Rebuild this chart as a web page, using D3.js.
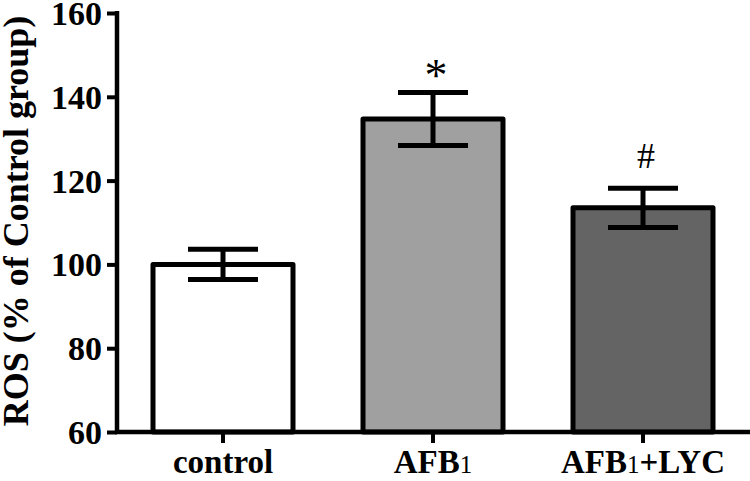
<!DOCTYPE html>
<html>
<head>
<meta charset="utf-8">
<script src="https://cdn.jsdelivr.net/npm/d3@7"></script>
<style>
  html, body { margin: 0; padding: 0; background: #fff; }
  svg { display: block; font-family: "Liberation Serif", "Times New Roman", serif; }
</style>
</head>
<body>
<svg id="chart" width="750" height="481"></svg>
<script>
// values
const groups = ['control', 'AFB1', 'AFB1+LYC'];
const means = [100, 134.7, 113.5];
const sems = [3.6, 6.3, 4.7];
const marks = ['', '*', '#'];
const fills = ['#ffffff', '#a0a0a0', '#646464'];
const yTicks = [60, 80, 100, 120, 140, 160];

const svg = d3.select('#chart');
const axisX = 117, baseY = 432, topY = 13;

const x = d3.scaleBand()
  .domain(groups)
  .range([118, 748])
  .paddingInner(1 / 3)
  .paddingOuter(1 / 6);

const y = d3.scaleLinear()
  .domain([60, 160])
  .range([baseY, topY]);

const rows = groups.map((g, i) => ({ g, mean: means[i], sem: sems[i], mark: marks[i], fill: fills[i] }));

// bars
svg.append('g').selectAll('rect')
  .data(rows)
  .join('rect')
  .attr('x', d => x(d.g))
  .attr('y', d => y(d.mean))
  .attr('width', x.bandwidth())
  .attr('height', d => baseY - y(d.mean))
  .attr('fill', d => d.fill)
  .attr('stroke', '#000')
  .attr('stroke-width', 5)
  .attr('stroke-linejoin', 'round');

// error bars
const capW = 70;
const eb = svg.append('g').attr('stroke', '#000').attr('stroke-width', 5);
rows.forEach(d => {
  const cx = x(d.g) + x.bandwidth() / 2;
  eb.append('line').attr('x1', cx).attr('x2', cx).attr('y1', y(d.mean + d.sem)).attr('y2', y(d.mean - d.sem));
  eb.append('line').attr('x1', cx - capW / 2).attr('x2', cx + capW / 2).attr('y1', y(d.mean + d.sem)).attr('y2', y(d.mean + d.sem));
  eb.append('line').attr('x1', cx - capW / 2).attr('x2', cx + capW / 2).attr('y1', y(d.mean - d.sem)).attr('y2', y(d.mean - d.sem));
});

// significance marks
svg.append('g').selectAll('text')
  .data(rows.filter(d => d.mark))
  .join('text')
  .attr('x', d => x(d.g) + x.bandwidth() / 2 + 3)
  .attr('y', d => y(d.mean + d.sem) - (d.mark === '*' ? 2 : 20))
  .attr('text-anchor', 'middle')
  .attr('font-size', d => d.mark === '*' ? 46 : 36)
  .text(d => d.mark);

// y axis
const yAxis = svg.append('g')
  .attr('transform', `translate(${axisX},0)`)
  .call(d3.axisLeft(y).tickValues(yTicks).tickSize(10).tickSizeOuter(0).tickPadding(5));
yAxis.attr('font-family', null);
yAxis.select('.domain').attr('stroke-width', 4.5).attr('d', `M0,${baseY + 2}V${topY - 2}`);
yAxis.selectAll('.tick line').attr('stroke-width', 4);
yAxis.selectAll('.tick text')
  .attr('font-size', 34)
  .attr('font-weight', 'bold')
  .attr('fill', '#000')
  .attr('dy', '0.34em');

// x axis
const xAxis = svg.append('g')
  .attr('transform', `translate(0,${baseY})`)
  .call(d3.axisBottom(x).tickSize(11).tickSizeOuter(0).tickFormat(''));
xAxis.select('.domain').attr('stroke-width', 4.5).attr('d', `M${axisX - 2},0H750`);
xAxis.selectAll('.tick line').attr('stroke-width', 4);

// category labels with subscript-style 1
const lab = svg.append('g').selectAll('text')
  .data(groups)
  .join('text')
  .attr('x', d => x(d) + x.bandwidth() / 2)
  .attr('y', 473)
  .attr('text-anchor', 'middle')
  .attr('font-size', 33)
  .attr('font-weight', 'bold');
lab.each(function (d) {
  const t = d3.select(this);
  const parts = d.split('1');
  parts.forEach((p, i) => {
    t.append('tspan').text(p);
    if (i < parts.length - 1) {
      t.append('tspan').attr('font-size', 25).attr('font-weight', 'normal').text('1');
    }
  });
});

// y title
svg.append('text')
  .attr('transform', 'translate(28,221) rotate(-90)')
  .attr('text-anchor', 'middle')
  .attr('font-size', 36)
  .attr('font-weight', 'bold')
  .text('ROS (% of Control group)');
</script>
</body>
</html>
